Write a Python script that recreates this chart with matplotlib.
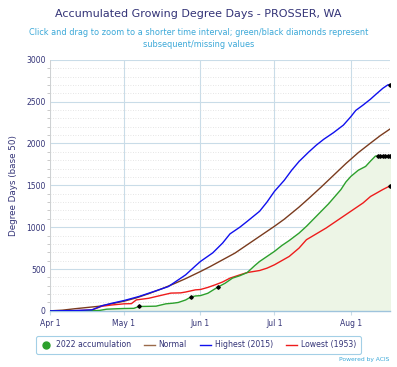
import numpy as np
import pandas as pd
import matplotlib
matplotlib.use("Agg")
import matplotlib.pyplot as plt
from matplotlib.lines import Line2D

start = pd.Timestamp("2022-04-01")

# day offset from Apr 1 -> accumulated GDD
green_days = [0, 10, 17, 20, 23, 27, 30, 34, 36, 40, 43, 47, 50, 52, 55, 57, 59, 61, 64, 68,
              71, 74, 77, 80, 83, 85, 88, 91, 94, 97, 101, 104, 107, 110, 113, 115, 118, 120,
              122, 125, 128, 130, 132, 133, 134, 135, 136, 137, 138]
green_vals = [0, 0, 2, 5, 20, 25, 28, 30, 52, 54, 56, 84, 92, 100, 130, 164, 178, 182, 210, 283,
              330, 391, 420, 458, 540, 590, 650, 710, 780, 840, 929, 1010, 1100, 1190, 1280, 1348,
              1450, 1540, 1606, 1680, 1726, 1790, 1850, 1850, 1850, 1850, 1850, 1850, 1850]
missing_days = [36, 57, 68, 133, 134, 135, 136, 137, 138]

normal_days = [0, 5, 10, 15, 20, 25, 30, 35, 40, 45, 50, 55, 61, 65, 70, 75, 80, 85, 91, 95,
               101, 105, 110, 115, 120, 125, 130, 134, 138]
normal_vals = [0, 8, 25, 40, 55, 85, 115, 155, 205, 260, 320, 385, 470, 530, 610, 690, 790, 890,
               1010, 1095, 1240, 1345, 1480, 1620, 1760, 1890, 2005, 2095, 2175]

high_days = [0, 10, 17, 21, 25, 30, 36, 42, 48, 52, 55, 59, 61, 66, 70, 73, 77, 80, 85, 88, 91,
             95, 98, 101, 105, 108, 111, 115, 119, 122, 124, 127, 130, 132, 135, 137, 138]
high_vals = [0, 3, 12, 60, 90, 123, 171, 230, 290, 370, 430, 538, 590, 693, 810, 920, 1000, 1070,
             1190, 1300, 1427, 1560, 1680, 1785, 1900, 1980, 2050, 2130, 2220, 2320, 2395, 2460,
             2530, 2583, 2660, 2700, 2705]

low_days = [0, 10, 17, 21, 25, 30, 33, 35, 40, 43, 49, 53, 55, 59, 61, 64, 67, 70, 73, 77, 80,
            85, 88, 91, 94, 97, 101, 104, 108, 112, 116, 120, 124, 127, 130, 132, 135, 138]
low_vals = [0, 2, 10, 55, 70, 84, 86, 131, 150, 171, 212, 215, 225, 251, 255, 280, 311, 345, 391,
            430, 458, 482, 510, 550, 600, 650, 750, 850, 920, 990, 1070, 1150, 1230, 1290, 1367,
            1400, 1450, 1495]

month_ticks = ["2022-04-01", "2022-05-01", "2022-06-01", "2022-07-01", "2022-08-01"]
month_labels = ["Apr 1", "May 1", "Jun 1", "Jul 1", "Aug 1"]

def to_dates(days):
    return start + pd.to_timedelta(days, unit="D")

navy = "#333377"
c_green = "#2ca02c"
c_brown = "#7a3b1e"
c_blue = "#1010ee"
c_red = "#ee1c1c"
grid_c = "#c9dce8"

fig = plt.figure(figsize=(3.97, 3.67), dpi=100)
ax = fig.add_axes([0.126, 0.153, 0.857, 0.684])

gd = to_dates(green_days)
ax.fill_between(gd, green_vals, 0, color="#edf5e6", zorder=1)
ax.plot(to_dates(normal_days), normal_vals, color=c_brown, lw=1.0, zorder=3)
ax.plot(to_dates(low_days), low_vals, color=c_red, lw=1.0, zorder=3)
ax.plot(gd, green_vals, color=c_green, lw=1.0, zorder=4)
ax.plot(to_dates(high_days), high_vals, color=c_blue, lw=1.0, zorder=4)

miss_vals = [green_vals[green_days.index(d)] for d in missing_days]
ax.plot(to_dates(missing_days), miss_vals, ls="none", marker="D", ms=1.8, color="black", zorder=5)
ax.plot(to_dates([high_days[-1]]), [high_vals[-1]], ls="none", marker="D", ms=1.8, color="black", zorder=5)
ax.plot(to_dates([low_days[-1]]), [low_vals[-1]], ls="none", marker="D", ms=1.8, color="black", zorder=5)

ax.set_xlim(start, to_dates([138])[0])
ax.set_ylim(0, 3000)
ax.set_yticks(np.arange(0, 3001, 500))
ax.set_yticks(np.arange(0, 3001, 100), minor=True)
ax.set_xticks(pd.to_datetime(month_ticks))
ax.set_xticklabels(month_labels)
ax.tick_params(axis="both", labelsize=5.5, labelcolor=navy, length=0, pad=3)
ax.tick_params(axis="y", which="minor", length=2, color="#c0c0c0", left=True)
ax.tick_params(axis="x", length=3, color=grid_c, bottom=True)

ax.grid(True, which="major", color=grid_c, lw=0.8)
ax.grid(True, which="minor", axis="y", color="#dddddd", lw=0.6, ls=(0, (1, 2)))
ax.set_axisbelow(True)
for s in ["top", "right"]:
    ax.spines[s].set_visible(False)
ax.spines["left"].set_color("#d0d0d0")
ax.spines["left"].set_linewidth(0.6)
ax.spines["bottom"].set_color("#9ec3dc")
ax.spines["bottom"].set_linewidth(1.0)

ax.set_ylabel("Degree Days (base 50)", fontsize=6.3, color=navy, labelpad=6)

fig.text(0.5, 0.962, "Accumulated Growing Degree Days - PROSSER, WA", ha="center", va="center",
         fontsize=8.0, color=navy)
fig.text(0.5, 0.895, "Click and drag to zoom to a shorter time interval; green/black diamonds represent\nsubsequent/missing values",
         ha="center", va="center", fontsize=5.9, color="#3aa8d8", linespacing=1.35)
fig.text(0.982, 0.013, "Powered by ACIS", ha="right", va="bottom", fontsize=4.3, color="#3aa8d8")

handles = [
    Line2D([], [], ls="none", marker="o", ms=5, color=c_green),
    Line2D([], [], color="#9a6a4a", lw=1.0),
    Line2D([], [], color=c_blue, lw=1.0),
    Line2D([], [], color=c_red, lw=1.0),
]
labels = ["2022 accumulation", "Normal", "Highest (2015)", "Lowest (1953)"]
leg = fig.legend(handles, labels, loc="center", bbox_to_anchor=(0.5, 0.06), ncol=4,
                 fontsize=5.6, frameon=True, fancybox=True, handlelength=1.4, handletextpad=0.5,
                 columnspacing=1.7, borderpad=0.55, labelcolor=navy)
leg.get_frame().set_edgecolor("#8cc4e0")
leg.get_frame().set_linewidth(0.8)

fig.savefig("out.png", dpi=100)
